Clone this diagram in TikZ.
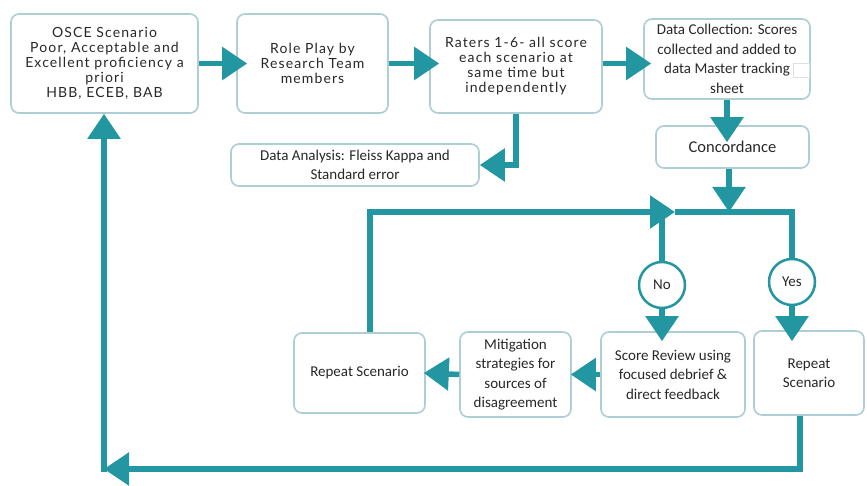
\documentclass[tikz,border=0pt]{standalone}
\usepackage{fontspec}
\setmainfont{Carlito}
\newfontfamily\topfont[LetterSpace=8]{Lato}
\usetikzlibrary{arrows.meta,calc}
\definecolor{teal1}{RGB}{34,150,161}
\definecolor{bord}{RGB}{172,206,212}
\definecolor{txt}{RGB}{40,40,40}
\begin{document}
\begin{tikzpicture}[x=1pt,y=-1pt,
 box/.style={draw=bord,line width=1.6pt,rounded corners=8pt,fill=white,text=txt,align=center,inner sep=0pt,font=\fontsize{15}{19.5}\selectfont},
 topbox/.style={box,font=\topfont\fontsize{14}{15}\selectfont},
 conn/.style={draw=teal1,line width=5.5pt},
 arr/.style={conn,-{Triangle[length=25pt,width=32pt]}},
 decision/.style={circle,draw=teal1,line width=2.5pt,fill=white,minimum size=46pt,inner sep=0pt,text=txt,font=\fontsize{15}{18}\selectfont}]
\useasboundingbox (0,0) rectangle (867,486);
\fill[white] (0,0) rectangle (867,486);
% boxes
\node[topbox,minimum width=187pt,minimum height=99pt] (osce) at (104.5,63.5) {OSCE Scenario\\Poor, Acceptable and\\Excellent proficiency a\\priori\\HBB, ECEB, BAB};
\node[topbox,minimum width=151pt,minimum height=99pt] (role) at (312.5,63.5) {Role Play by\\Research Team\\members};
\node[topbox,minimum width=172pt,minimum height=93pt] (raters) at (516,66.5) {Raters 1-6- all score\\each scenario at\\same time but\\independently};
\node[box,minimum width=166pt,minimum height=80pt] (datacol) at (727,59) {Data Collection: Scores\\collected and added to\\data Master tracking\\sheet};
\node[draw=black!12,line width=0.8pt,minimum width=16pt,minimum height=14pt,inner sep=0pt] (blank) at (801,70) {};
\node[box,minimum width=153pt,minimum height=42pt,font=\fontsize{16.5}{20}\selectfont] (conc) at (732.5,147) {Concordance};
\node[box,minimum width=248pt,minimum height=42pt] (anal) at (355,165) {Data Analysis: Fleiss Kappa and\\Standard error};
\node[box,minimum width=131pt,minimum height=80pt] (rep1) at (359.5,373) {Repeat Scenario};
\node[box,minimum width=111pt,minimum height=85pt] (mitig) at (515.5,374.5) {Mitigation\\strategies for\\sources of\\disagreement};
\node[box,minimum width=144pt,minimum height=85pt] (review) at (673,374.5) {Score Review using\\focused debrief \&\\direct feedback};
\node[box,minimum width=110pt,minimum height=84pt] (rep2) at (809,373) {Repeat\\Scenario};
\node[decision] (no) at (662,285) {No};
\node[decision] (yes) at (792,282) {Yes};
% helper points
\coordinate (tl) at (370,212);
\coordinate (ja) at (675,212);
\coordinate (jc) at (729,212);
\coordinate (tr) at (792,212);
\coordinate (br) at (800,469);
\coordinate (bl) at (104,469);
% connectors
\draw[arr] (osce.east) -- ($(role.west)+(11,0)$);
\draw[arr] (role.east) -- ($(role.east -| raters.west)+(10,0)$);
\draw[arr] ($(raters.east)+(0,-3)$) -- ($(raters.east -| datacol.west)+(8,-3)$);
\draw[arr] (datacol.south) -- ($(datacol.south |- conc.north)+(0,17)$);
\draw[arr] (raters.south) |- (anal.east);
\draw[arr] (conc.south -| jc) -- (jc);
\draw[arr] (tl |- rep1.north) -- (tl) -- (ja);
\draw[conn] (ja) -- (tr) -- (yes.north);
\draw[conn] (no.north |- tl) -- (no.north);
\draw[arr] (no.south) -- ($(no.south |- review.north)+(0,10)$);
\draw[arr] (yes.south) -- ($(yes.south |- rep2.north)+(0,11)$);
\draw[arr] (review.west) -- ($(mitig.east)+(-1,0)$);
\draw[arr] (mitig.west) -- ($(rep1.east)+(-2,0)$);
\draw[arr] (br |- rep2.south) -- (br) -- (bl);
\draw[arr] ($(bl)+(0,2.75)$) -- (osce.south -| bl);
\end{tikzpicture}
\end{document}
